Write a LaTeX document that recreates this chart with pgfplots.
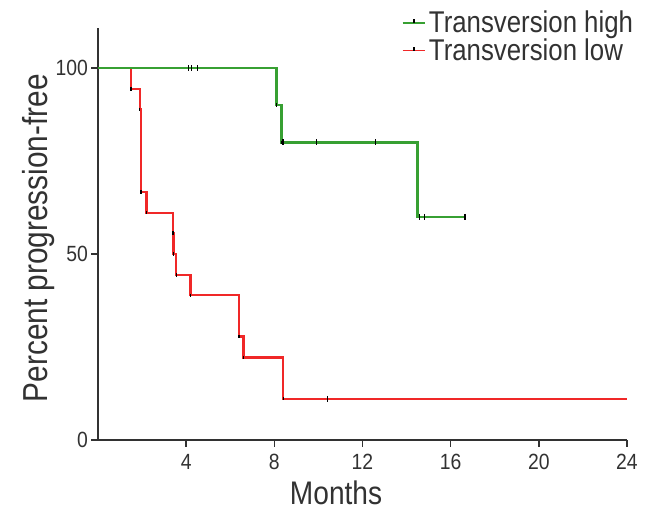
\documentclass[border=0pt]{standalone}
\usepackage{pgfplots}
\pgfplotsset{compat=1.18}
\usepackage{fontspec}
\setmainfont{Liberation Sans}
\definecolor{kmgreen}{RGB}{55,160,50}
\definecolor{kmred}{RGB}{240,40,40}
\definecolor{axgray}{RGB}{50,50,50}
\pgfplotsset{kmleg/.style={legend image code/.code={\draw[##1] (0pt,0pt) -- (17pt,0pt); \draw[black, line width=0.9pt] (8.5pt,0pt) -- (8.5pt,3pt);}}}
\begin{document}
\begin{tikzpicture}
\useasboundingbox (-73.5pt,-54pt) rectangle (417pt,330pt);
\begin{axis}[
  at={(0,0)}, anchor=south west,
  scale only axis, width=396.75pt, height=309pt,
  xmin=0, xmax=24, ymin=0, ymax=110.75,
  axis x line=bottom, axis y line=left,
  axis line style={-, axgray, line width=1.4pt},
  xtick={4,8,12,16,20,24}, ytick={0,50,100},
  tick align=outside, major tick length=5pt,
  tick style={axgray, line width=1.2pt},
  /pgf/number format/assume math mode=true,
  tick label style={font=\fontsize{16.5}{19}\selectfont, text=axgray},
  xticklabel={\scalebox{0.88}[1]{\pgfmathprintnumber{\tick}}},
  yticklabel={\scalebox{0.88}[1]{\pgfmathprintnumber{\tick}}},
  xticklabel style={yshift=-2pt},
  yticklabel style={xshift=1pt},
  xlabel={\scalebox{0.86}[1]{Months}}, ylabel={\scalebox{0.86}[1]{Percent progression-free}},
  xlabel style={font=\fontsize{24.5}{27}\selectfont, text=axgray, at={(rel axis cs:0.45,0)}, anchor=north, yshift=-27pt},
  ylabel style={font=\fontsize{26}{29}\selectfont, text=axgray, at={(rel axis cs:0,0.49)}, anchor=south, yshift=29pt},
  legend style={at={(axis description cs:1.017,1.0485)}, anchor=north east, draw=none, fill=none,
    font=\fontsize{22.5}{24}\selectfont, text=axgray, row sep=-1pt, inner sep=0pt},
  legend cell align=left,
  clip=false,
]
\addplot[kmred, line width=1.7pt, const plot, forget plot] coordinates {
(0,100) (1.5,94.4) (1.9,88.9) (1.95,66.7) (2.2,61.1) (3.4,55.6) (3.42,50) (3.55,44.4) (4.2,38.9) (6.4,27.8) (6.6,22.2) (8.4,11.1) (24,11.1)};
\addplot[kmgreen, line width=1.7pt, const plot, forget plot] coordinates {
(0,100) (8.1,90) (8.33,80) (14.5,60) (16.65,60)};
% censor marks
\addplot[only marks, mark=|, mark size=2.2pt, mark options={black, line width=1pt}, forget plot] coordinates {
(4.1,100) (4.25,100) (4.5,100) (8.4,80) (9.9,80) (12.6,80) (14.6,60) (14.8,60) (16.65,60) (10.4,11.1)};
% event corner marks
\addplot[only marks, mark=|, mark size=1.3pt, mark options={black, line width=0.9pt}, forget plot] coordinates {
(1.5,94.4) (1.9,88.9) (1.95,66.7) (2.2,61.1) (3.4,55.6) (3.42,50) (3.55,44.4) (4.2,38.9) (6.4,27.8) (6.6,22.2) (8.4,11.1) (8.1,90) (8.33,80)};
\addlegendimage{kmgreen, line width=1.4pt, kmleg}
\addlegendentry{\scalebox{0.86}[1]{Transversion high}}
\addlegendimage{kmred, line width=1.4pt, kmleg}
\addlegendentry{\scalebox{0.86}[1]{Transversion low}}
\end{axis}
\end{tikzpicture}
\end{document}
